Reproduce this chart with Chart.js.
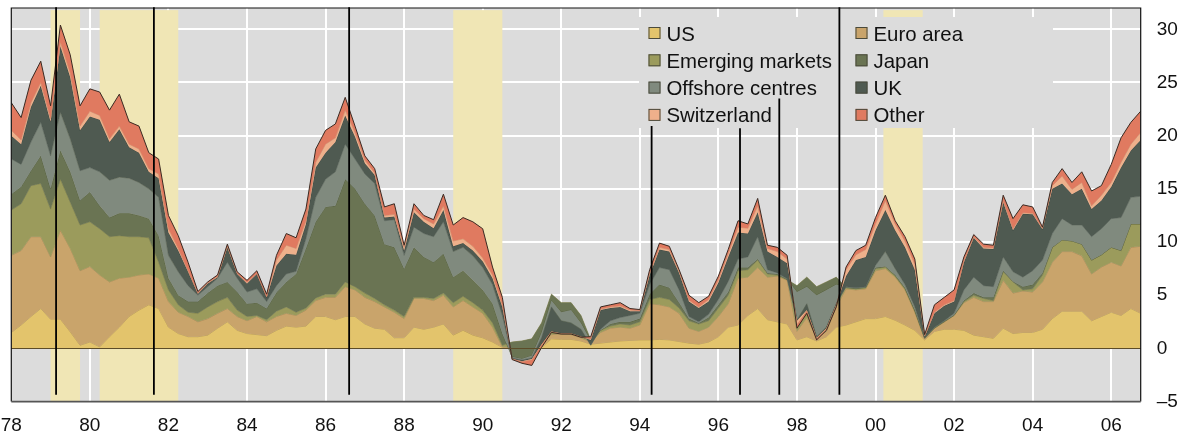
<!DOCTYPE html>
<html><head><meta charset="utf-8">
<script src="https://cdn.jsdelivr.net/npm/chart.js@4.4.1/dist/chart.umd.min.js"></script>
<style>html,body{margin:0;padding:0;background:#fff;}canvas{display:block;}</style>
</head><body>
<canvas id="c" width="1183" height="437"></canvas>
<script>
// ---- data (quarterly, 1978Q1 .. 2006Q4), contributions in percentage points ----
const seriesNames = ['US','Euro area','Emerging markets','Japan','Offshore centres','UK','Switzerland','Other'];
const startYear = 1978;
const us = [1.5,2.2,3.0,3.75,2.75,2.75,1.56,0.3,0.6,0.15,
1.1,2.0,3.0,3.6,4.1,3.75,2.0,1.4,1.1,1.1,
1.25,1.9,2.5,1.7,1.4,1.3,1.2,1.7,2.1,2.0,
2.1,3.0,3.0,2.7,3.0,3.0,2.3,1.9,1.8,1.0,
1.0,2.0,1.8,2.0,2.3,1.25,1.7,1.25,1.0,0.6,
0.1,0.0,0.0,0.05,0.1,0.9,0.85,0.85,0.7,0.4,
0.5,0.6,0.7,0.75,0.8,0.8,0.85,0.8,0.65,0.5,
0.4,0.6,1.1,2.0,2.2,3.1,3.75,2.7,2.5,2.3,
0.8,1.1,0.7,1.1,2.0,2.2,2.5,2.8,2.8,3.0,
2.65,2.2,1.7,0.8,1.6,1.8,1.8,1.7,1.25,1.1,
0.95,1.9,1.4,1.5,1.5,1.8,2.8,3.5,3.5,3.5,
2.6,3.0,3.4,3.1,3.75,3.3];
const euroArea = [7.25,7.0,7.5,6.75,5.85,8.35,7.84,7.0,7.1,6.75,
5.15,4.6,3.7,3.3,2.9,2.85,2.4,2.0,1.9,1.4,
1.55,1.4,1.25,1.3,1.2,1.7,1.3,1.3,1.2,1.1,
1.5,1.5,1.8,2.1,2.8,2.5,2.5,2.5,2.1,2.4,
1.8,2.7,2.9,2.5,2.7,2.65,2.8,2.65,2.3,1.4,
0.05,0.1,0.1,0.15,0.3,0.4,0.5,0.45,0.3,0.2,
1.0,1.3,1.3,1.15,1.4,3.4,3.25,3.1,2.65,1.4,
1.2,1.4,1.9,2.2,4.4,3.6,3.85,4.0,4.3,4.1,
0.8,1.8,0.3,0.5,1.9,3.4,3.0,2.8,4.5,4.5,
4.05,3.3,1.7,0.1,0.3,0.7,1.3,2.6,3.55,3.3,
3.45,4.5,3.8,3.9,3.8,4.45,5.3,5.6,5.6,5.2,
4.4,4.65,4.7,4.65,5.75,6.3];
const emerging = [4.25,4.4,4.8,5.0,4.5,4.8,4.35,4.3,4.2,4.35,
4.25,4.0,3.8,3.6,3.4,1.5,1.1,0.7,0.4,0.8,
1.1,1.1,1.05,0.6,0.4,0.1,0.2,0.5,0.6,0.3,
0.2,0.25,0.3,0.3,0.45,0.3,0.4,0.3,0.2,0.2,
0.2,0.1,0.1,0.2,0.2,0.4,0.4,0.4,0.3,0.4,
0.15,0.5,0.6,0.7,2.0,3.8,2.95,3.0,2.1,0.2,
0.2,0.2,0.3,0.3,0.3,0.4,0.7,0.7,0.5,0.7,
0.7,0.6,0.8,0.8,0.7,0.7,0.7,0.3,0.1,0.05,
4.3,3.8,4.8,4.65,2.8,0.1,0.1,0.1,0.2,0.15,
0.1,0.1,0.1,0.05,0.0,0.0,0.0,0.1,0.2,0.3,
0.1,0.8,1.05,0.1,0.3,0.65,1.4,1.1,1.0,1.1,
1.3,1.15,1.4,1.45,2.2,2.1];
const japan = [1.5,1.6,1.4,2.6,1.9,2.7,2.85,2.3,2.8,2.15,
1.8,2.1,2.2,2.0,1.8,2.5,1.1,0.9,1.0,1.1,
1.3,1.5,1.45,1.7,1.2,1.2,1.05,1.75,2.35,3.6,
5.6,7.15,8.2,8.3,9.65,9.2,8.4,7.8,5.7,5.9,
4.5,4.7,3.8,3.4,3.7,2.4,2.4,2.1,1.9,1.8,
1.1,-1.4,-1.7,-1.6,-0.9,-0.6,-0.9,-0.7,-0.7,-0.1,
0.0,0.2,0.2,0.3,0.3,0.5,1.2,1.1,0.5,0.2,
0.1,0.3,0.3,0.3,0.3,0.2,0.1,0.1,0.1,0.05,
-0.6,-0.9,-0.8,-0.75,-0.7,0.05,0.05,0.05,0.1,0.05,
0.1,0.1,0.1,0.05,0.05,0.05,0.05,0.1,0.2,0.1,
0.3,0.1,0.05,0.3,0.4,0.2,0.0,0.0,0.0,0.0,
0.0,0.0,0.0,0.0,0.0,0.0];
const offshore = [3.3,2.1,2.7,3.15,3.1,3.6,3.1,2.8,2.3,3.2,
3.5,3.4,3.3,3.1,2.8,3.6,2.15,2.2,1.5,0.6,
0.6,0.7,1.85,1.3,1.1,1.3,0.65,0.65,0.75,0.25,
0.9,2.3,2.6,3.2,3.3,2.8,2.8,3.0,2.2,2.6,
1.25,1.9,2.2,2.4,3.0,2.4,2.2,2.3,2.1,1.8,
1.7,-0.1,-0.1,-0.2,-0.5,-0.6,-0.8,-1.2,-0.6,-0.4,
0.1,0.3,0.4,0.6,0.5,0.9,1.6,1.7,1.2,0.2,
0.1,0.3,0.5,1.0,0.8,1.0,2.1,0.3,0.1,0.05,
-2.65,-1.6,-3.9,-3.5,-1.8,0.05,0.05,0.05,0.2,1.4,
0.6,0.3,0.3,0.0,0.05,0.05,0.15,1.0,1.5,1.1,
1.0,1.3,0.9,0.9,1.3,1.2,1.3,2.0,1.5,1.8,
2.2,2.45,2.7,3.1,2.5,2.6];
const uk = [2.2,1.9,3.3,3.45,3.2,6.2,5.8,3.8,4.8,4.9,
3.6,4.5,2.9,2.8,1.6,1.8,2.15,2.0,1.3,0.15,
0.3,0.1,1.4,0.4,0.8,1.4,0.4,1.9,1.9,1.55,
1.4,2.8,2.5,2.8,2.7,2.1,1.0,0.8,0.3,0.3,
0.45,1.4,1.1,0.8,1.1,0.5,0.4,0.5,0.6,0.6,
0.8,-0.1,-0.1,-0.1,-0.6,-2.3,-1.2,-1.0,-0.7,0.5,
1.8,1.2,1.0,0.4,0.2,0.9,1.7,1.7,1.6,1.4,
1.3,1.2,1.6,2.3,2.5,2.2,2.3,1.7,1.5,1.45,
-0.05,-0.6,-0.1,-0.1,-0.1,1.0,2.6,2.8,3.3,3.9,
3.6,3.5,3.5,0.1,1.3,1.4,1.1,2.6,3.7,3.5,
3.55,5.15,3.9,5.95,5.3,2.9,4.2,3.3,2.9,3.4,
2.6,2.65,3.0,4.7,4.4,5.3];
const switzerland = [0.5,0.4,0.4,0.3,0.3,0.4,0.4,0.4,0.5,0.4,
0.3,0.3,0.3,0.35,0.3,0.4,0.35,0.2,0.1,0.05,
0.05,0.05,0.1,0.05,0.1,0.05,0.05,0.5,0.8,0.6,
0.3,0.5,0.8,0.4,0.5,0.4,0.3,0.2,0.2,0.2,
0.3,0.3,0.3,0.4,0.4,0.5,0.4,0.4,0.3,0.3,
0.2,0.0,-0.05,-0.1,-0.1,-0.05,-0.02,-0.02,-0.02,0.1,
0.1,0.1,0.1,0.1,0.05,0.2,0.2,0.2,0.15,0.15,
0.1,0.2,0.25,0.3,0.5,0.5,0.6,0.3,0.5,0.4,
-0.4,-0.1,-0.1,-0.1,-0.1,0.6,0.5,0.7,0.6,0.9,
0.6,0.6,0.5,0.1,0.1,0.1,0.1,0.15,0.1,0.1,
0.1,0.15,0.15,0.1,0.1,0.1,0.3,0.7,0.45,0.6,
0.3,0.5,0.4,0.5,0.6,0.7];
const other = [2.6,2.1,2.1,2.0,1.2,1.6,1.7,1.9,2.1,2.2,
2.7,3.0,2.1,2.15,1.5,1.4,1.25,1.2,0.8,0.15,
0.1,0.15,0.2,0.15,0.2,0.25,0.25,0.45,1.1,1.0,
1.1,1.25,1.3,1.3,1.2,0.6,0.4,0.4,0.8,1.0,
0.2,0.5,0.3,0.4,1.1,1.5,2.0,2.3,2.75,0.75,
0.7,-0.05,-0.15,-0.5,-0.2,-0.05,-0.03,-0.03,-0.03,0.2,
0.2,0.2,0.3,0.15,0.1,0.3,0.4,0.3,0.15,0.45,
0.4,0.3,0.35,0.4,0.6,0.4,0.7,0.3,0.4,0.35,
-0.3,-0.2,-0.1,-0.1,-0.1,0.25,0.4,0.4,0.6,0.5,
0.3,0.4,0.5,0.1,0.7,0.7,1.0,0.35,0.2,0.3,
0.25,0.5,0.95,0.75,0.6,0.1,0.3,0.7,0.65,1.0,
1.4,0.9,1.7,2.3,2.05,2.0];

// shaded periods and event dates (years)
const bandStart = [1979.0, 1980.25, 1989.25, 2000.2];
const bandEnd   = [1979.75, 1982.25, 1990.5, 2001.2];
const eventDates = [1979.14, 1981.63, 1986.6, 1994.3, 1996.55, 1997.55, 1999.08];

// y-axis tick values and x tick years
const yTicks = [-5, 0, 5, 10, 15, 20, 25, 30];
const xTickYears = [1978,1980,1982,1984,1986,1988,1990,1992,1994,1996,1998,2000,2002,2004,2006];

// ---- styling / layout ----
const fills   = ['#e3c46c','#c9a46b','#9b9b5c','#6a7453','#808a7e','#4f5a51','#eeb08b','#e07a60'];
const borders = ['#b0924c','#a5824f','#7a7a45','#4f5a3c','#626b60','#3a443c','#c98d68','#3a2a22'];
const FONT = '"Liberation Sans", Arial, Helvetica, sans-serif';
const eventTops = [32.07, 32.07, 32.07, 20.9, 20.7, 23.5, 32.07]; // value units where lines begin
const eventBottom = -4.35;

const allSeries = [us, euroArea, emerging, japan, offshore, uk, switzerland, other];
const xs = us.map((_, i) => startYear + i / 4);
const cum = [];
allSeries.forEach((s, k) => {
  cum.push(s.map((v, i) => (k === 0 ? 0 : cum[k - 1][i]) + v));
});

const datasets = allSeries.map((s, k) => ({
  label: seriesNames[k],
  data: cum[k].map((y, i) => ({ x: xs[i], y: +y.toFixed(3) })),
  fill: k === 0 ? 'origin' : '-1',
  backgroundColor: fills[k],
  borderColor: borders[k],
  borderWidth: k === 7 ? 1 : 0.7,
  pointRadius: 0,
  tension: 0,
  order: 7 - k
}));

const LEG = { x: 639, y: 17, w: 414, h: 111 };
const legendCols = [[0, 2, 4, 6], [1, 3, 5, 7]];

const deco = {
  id: 'deco',
  beforeDraw(chart) {
    const { ctx, chartArea: a } = chart;
    ctx.save();
    ctx.fillStyle = '#dcdcdc';
    ctx.fillRect(a.left, a.top, a.right - a.left, a.bottom - a.top);
    ctx.restore();
  },
  beforeDatasetsDraw(chart) {
    const { ctx, chartArea: a, scales: { x, y } } = chart;
    ctx.save();
    ctx.fillStyle = '#f0e6b5';
    const yt = y.getPixelForValue(31.8);
    for (let i = 0; i < bandStart.length; i++) {
      const x0 = x.getPixelForValue(bandStart[i]);
      const x1 = x.getPixelForValue(bandEnd[i]);
      ctx.fillRect(x0, yt, x1 - x0, a.bottom - yt);
    }
    ctx.fillStyle = '#dcdcdc';
    ctx.fillRect(LEG.x, LEG.y, LEG.w, LEG.h);
    ctx.font = '20.4px ' + FONT;
    ctx.textBaseline = 'alphabetic';
    ctx.textAlign = 'left';
    const colX = [648.5, 855.5];
    legendCols.forEach((col, c) => {
      col.forEach((k, r) => {
        const top = 27 + r * 27.3;
        ctx.fillStyle = fills[k];
        ctx.fillRect(colX[c], top, 12, 12);
        ctx.strokeStyle = '#4a4a3c';
        ctx.lineWidth = 1;
        ctx.strokeRect(colX[c] + 0.5, top + 0.5, 11, 11);
        ctx.fillStyle = '#111';
        ctx.fillText(seriesNames[k], colX[c] + 18, top + 13.5);
      });
    });
    ctx.restore();
  },
  afterDatasetsDraw(chart) {
    const { ctx, chartArea: a, scales: { y } } = chart;
    const y0 = Math.round(y.getPixelForValue(0)) + 0.5;
    ctx.save();
    ctx.strokeStyle = '#5c4c28';
    ctx.lineWidth = 1.2;
    ctx.beginPath(); ctx.moveTo(a.left, y0); ctx.lineTo(a.right, y0); ctx.stroke();
    ctx.restore();
  },
  afterDraw(chart) {
    const { ctx, chartArea: a, scales: { x, y } } = chart;
    ctx.save();
    ctx.lineWidth = 1.2;
    ctx.strokeStyle = '#111';
    ctx.beginPath();
    ctx.moveTo(a.left, a.bottom); ctx.lineTo(a.left, a.top); ctx.lineTo(a.right, a.top); ctx.lineTo(a.right, a.bottom);
    ctx.stroke();
    ctx.strokeStyle = '#555';
    ctx.lineWidth = 1.6;
    ctx.beginPath(); ctx.moveTo(a.left, a.bottom); ctx.lineTo(a.right, a.bottom); ctx.stroke();
    ctx.strokeStyle = '#000';
    ctx.lineWidth = 1.8;
    eventDates.forEach((d, i) => {
      const px = x.getPixelForValue(d);
      ctx.beginPath();
      ctx.moveTo(px, y.getPixelForValue(eventTops[i]));
      ctx.lineTo(px, y.getPixelForValue(eventBottom));
      ctx.stroke();
    });
    ctx.restore();
  }
};

new Chart(document.getElementById('c'), {
  type: 'line',
  data: { datasets },
  options: {
    responsive: false,
    animation: false,
    devicePixelRatio: 1,
    layout: { padding: { left: 11.3, top: 8, right: 0, bottom: 0 } },
    plugins: { legend: { display: false }, tooltip: { enabled: false }, filler: { propagate: false } },
    elements: { line: { borderJoinStyle: 'round' } },
    scales: {
      x: {
        type: 'linear', min: 1978, max: 2006.75,
        afterFit(s) { s.height = 35.4; s.paddingLeft = 0; s.paddingRight = 0; s.paddingTop = 0; s.paddingBottom = 0; },
        afterBuildTicks(s) { s.ticks = xTickYears.map(v => ({ value: v })); },
        grid: { color: '#ffffff', lineWidth: 2, drawTicks: false },
        border: { display: false },
        ticks: { autoSkip: false, maxRotation: 0, padding: 13, color: '#111',
          font: { family: FONT, size: 19 },
          callback: v => String(v).slice(-2) }
      },
      y: {
        position: 'right', min: -5, max: 32,
        afterFit(s) { s.width = 42.3; s.paddingTop = 0; s.paddingBottom = 0; s.paddingLeft = 0; s.paddingRight = 0; },
        afterBuildTicks(s) { s.ticks = yTicks.map(v => ({ value: v })); },
        grid: { color: '#ffffff', lineWidth: 2, drawTicks: false },
        border: { display: false },
        ticks: { padding: 16, color: '#111', font: { family: FONT, size: 19 },
          callback: v => v < 0 ? '\u2013' + Math.abs(v) : String(v) }
      }
    }
  },
  plugins: [deco]
});
</script>
</body></html>
